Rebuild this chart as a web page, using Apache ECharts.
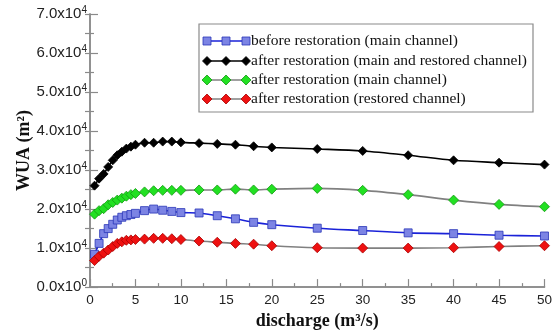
<!DOCTYPE html>
<html>
<head>
<meta charset="utf-8">
<script src="https://cdn.jsdelivr.net/npm/echarts@6/dist/echarts.min.js"></script>
<style>html,body{margin:0;padding:0;background:#fff}#c{width:555px;height:335px}</style>
</head>
<body>
<div id="c"></div>
<script>
const discharge = [0.5,1,1.5,2,2.5,3,3.5,4,4.5,5,6,7,8,9,10,12,14,16,18,20,25,30,35,40,45,50];
const beforeMain = [8400,11200,13700,15000,16100,17200,17900,18300,18600,18900,19600,20000,19700,19400,19100,19000,18300,17500,16600,16000,15100,14500,13900,13700,13300,13100];
const afterMainRestored = [26000,27800,29000,30800,32500,33800,34700,35500,36000,36500,37000,37000,37300,37300,37100,36900,36700,36500,36100,35800,35400,34900,33800,32500,31900,31400];
const afterMain = [18700,19600,20100,21100,21700,22300,22800,23300,23700,24000,24400,24700,24800,24800,24800,24900,24900,25100,24900,25100,25300,24800,23700,22300,21200,20600];
const afterRestored = [6800,7900,8700,9500,10400,11200,11600,12000,12100,12200,12300,12500,12500,12400,12200,11800,11500,11200,11000,10600,10100,10000,10000,10100,10400,10600];
const seriesNames = ['before restoration (main channel)','after restoration (main and restored channel)','after restoration (main channel)','after restoration (restored channel)'];
const yTickMantissa = ['0.0','1.0','2.0','3.0','4.0','5.0','6.0','7.0'];
const yTickExponent = ['0','4','4','4','4','4','4','4'];
const xTickLabels = ['0','5','10','15','20','25','30','35','40','45','50'];
const xTitle = 'discharge (m³/s)';
const yTitle = 'WUA (m²)';

const styles = [
  {line:'#1a22d8', fill:'#7c84e4', border:'#2a36b8', symbol:'rect', size:8},
  {line:'#000000', fill:'#000000', border:'#000000', symbol:'diamond', size:9},
  {line:'#808080', fill:'#22e022', border:'#119911', symbol:'diamond', size:10},
  {line:'#808080', fill:'#ee1111', border:'#aa0000', symbol:'diamond', size:10}
];
const allData = [beforeMain, afterMainRestored, afterMain, afterRestored];

const chart = echarts.init(document.getElementById('c'));
const axisCol = '#8a8a8a';
const labelFont = 'Liberation Sans, Arial, sans-serif';
const serif = 'Liberation Serif, Times New Roman, serif';

const series = allData.map((d, i) => ({
  name: seriesNames[i],
  type: 'line',
  smooth: 0.3,
  data: d.map((v, k) => [discharge[k], v]),
  symbol: styles[i].symbol,
  symbolSize: styles[i].size,
  lineStyle: {color: styles[i].line, width: 1.6},
  itemStyle: {color: styles[i].fill, borderColor: styles[i].border, borderWidth: 0.8},
  z: 2 + i
}));

// custom legend as graphics
const lg = {x: 199, y: 24, w: 334, h: 88, rows: [41, 61, 80, 99], mx: [207, 226, 246]};
const graphics = [{type:'rect', shape:{x:lg.x, y:lg.y, width:lg.w, height:lg.h}, style:{fill:'#fff', stroke:axisCol, lineWidth:1.2}, z:10}];
lg.rows.forEach((ry, i) => {
  const s = styles[i];
  graphics.push({type:'line', shape:{x1:lg.mx[0], y1:ry, x2:lg.mx[2], y2:ry}, style:{stroke:s.line, lineWidth:1.6}, z:11});
  lg.mx.forEach(mx => {
    const h = s.size/2;
    if (s.symbol === 'rect') {
      graphics.push({type:'rect', shape:{x:mx-h, y:ry-h, width:s.size, height:s.size}, style:{fill:s.fill, stroke:s.border, lineWidth:0.8}, z:12});
    } else {
      graphics.push({type:'polygon', shape:{points:[[mx, ry-h],[mx+h, ry],[mx, ry+h],[mx-h, ry]]}, style:{fill:s.fill, stroke:s.border, lineWidth:0.8}, z:12});
    }
  });
  graphics.push({type:'text', x:251, y:ry, style:{text:seriesNames[i], font:'15.5px ' + serif, fill:'#111', textVerticalAlign:'middle'}, z:12});
});

chart.setOption({
  animation: false,
  grid: {left: 90, right: 9, top: 14, bottom: 42},
  graphic: graphics,
  xAxis: [{
    type: 'value', min: 0, max: 50, interval: 5,
    name: xTitle, nameLocation: 'middle', nameGap: 24,
    nameTextStyle: {fontFamily: serif, fontWeight: 'bold', fontSize: 18, color: '#111'},
    axisLine: {show: true, lineStyle: {color: axisCol, width: 1.5}},
    axisTick: {show: true, inside: true, length: 8, lineStyle: {color: axisCol, width: 1.2}},
    minorTick: {show: true, splitNumber: 2, length: 4, lineStyle: {color: axisCol, width: 1.2}},
    splitLine: {show: false},
    axisLabel: {margin: 6, fontFamily: labelFont, fontSize: 13.5, color: '#222',
      formatter: v => xTickLabels[Math.round(v/5)]}
  }, {
    type: 'value', position: 'top', min: 0, max: 50,
    axisLine: {show: true, lineStyle: {color: axisCol, width: 1.5}},
    axisTick: {show: false}, axisLabel: {show: false}, splitLine: {show: false}
  }],
  yAxis: [{
    type: 'value', min: 0, max: 70000, interval: 10000,
    name: yTitle, nameLocation: 'middle', nameGap: 57, nameMoveOverlap: false,
    nameTextStyle: {fontFamily: serif, fontWeight: 'bold', fontSize: 18, color: '#111'},
    axisLine: {show: true, lineStyle: {color: axisCol, width: 1.5}},
    axisTick: {show: true, inside: true, length: 8, lineStyle: {color: axisCol, width: 1.2}},
    minorTick: {show: true, splitNumber: 2, length: 4, lineStyle: {color: axisCol, width: 1.2}},
    splitLine: {show: false},
    axisLabel: {margin: 3, fontFamily: labelFont, color: '#222',
      formatter: v => { const i = Math.round(v/10000); return '{m|' + yTickMantissa[i] + 'x10}{e|' + yTickExponent[i] + '}'; },
      rich: {m: {fontFamily: labelFont, fontSize: 15, color: '#222'}, e: {fontFamily: labelFont, fontSize: 10, color: '#222', verticalAlign: 'top', padding: [0,0,8,0]}}}
  }, {
    type: 'value', position: 'right', min: 0, max: 70000, interval: 5000,
    axisLine: {show: true, lineStyle: {color: axisCol, width: 1.5}},
    axisTick: {show: true, inside: true, length: 5, lineStyle: {color: axisCol, width: 1.2}},
    axisLabel: {show: false}, splitLine: {show: false}
  }],
  series: series
});
</script>
</body>
</html>
